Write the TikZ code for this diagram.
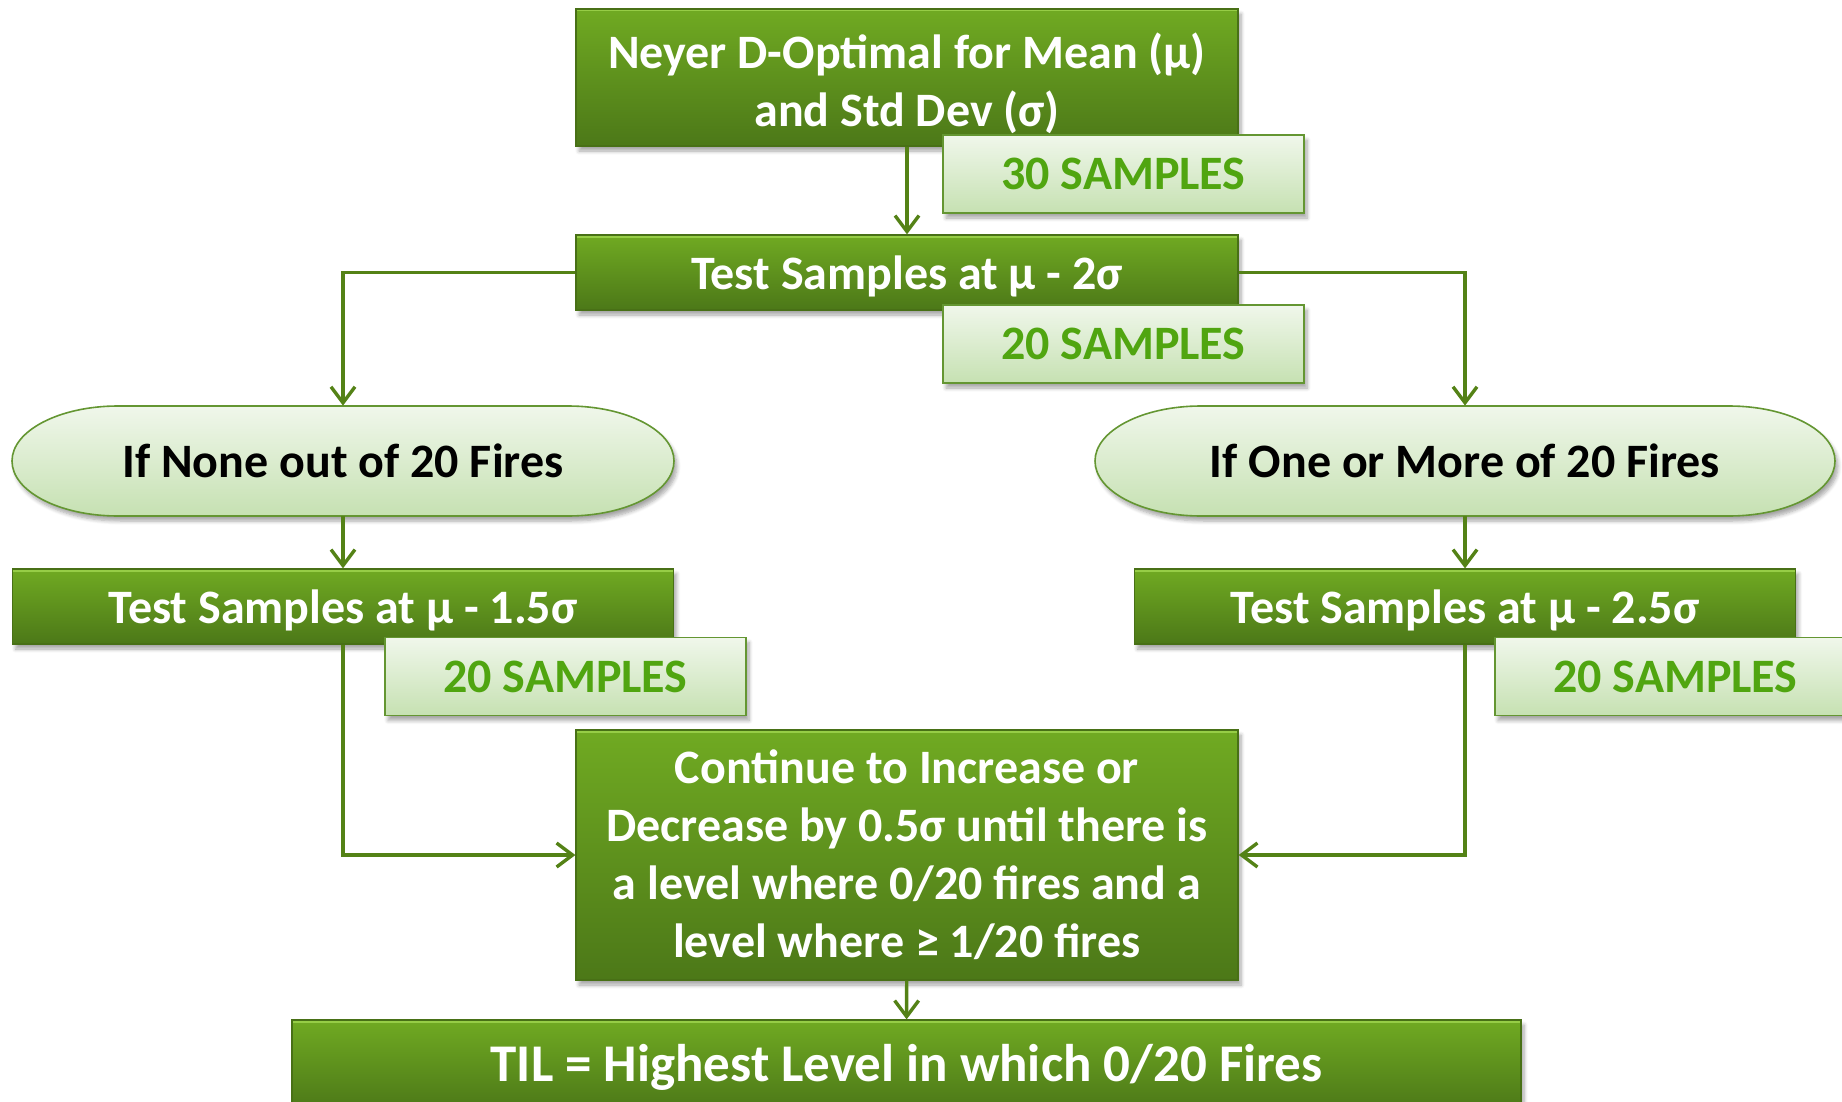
\documentclass[tikz,border=0pt]{standalone}
\usepackage{fontspec}
\setmainfont{Carlito}
\usetikzlibrary{arrows.meta,shadows.blur,calc}
\definecolor{gtop}{RGB}{112,170,34}
\definecolor{gbot}{RGB}{76,120,24}
\definecolor{gedge}{RGB}{72,112,22}
\definecolor{ghi}{RGB}{150,205,70}
\definecolor{ltop}{RGB}{240,247,235}
\definecolor{lbot}{RGB}{198,225,178}
\definecolor{ledge}{RGB}{100,150,50}
\definecolor{stxt}{RGB}{80,165,16}
\definecolor{conncol}{RGB}{84,130,22}
\tikzset{
  softshadow/.style={blur shadow={shadow xshift=1.5pt, shadow yshift=-2.5pt, shadow opacity=35, shadow blur steps=6}},
  mainbox/.style={draw=gedge, line width=0.6pt, top color=gtop, bottom color=gbot,
    text=white, font=\fontsize{24}{29}\selectfont\bfseries, align=center, inner sep=0pt,
    softshadow, execute at begin node={\rule{0pt}{21pt}},
    path picture={\draw[ghi, line width=2.5pt]
      (path picture bounding box.north west) -- (path picture bounding box.north east);}},
  sampbox/.style={draw=ledge, line width=0.6pt, top color=ltop, bottom color=lbot,
    text=stxt, font=\fontsize{24}{26}\selectfont\bfseries, inner sep=0pt,
    minimum width=180.5pt, minimum height=39pt, softshadow},
  condtext/.style={text=black, font=\fontsize{24}{29}\selectfont\bfseries, inner sep=0pt,
    minimum height=55pt},
  condshape/.style={draw=ledge, line width=0.8pt, top color=ltop, bottom color=lbot, softshadow},
  conn/.style={draw=conncol, line width=1.7pt, -{Straight Barb[length=8pt,width=12pt,line width=1.7pt]}}
}
\begin{document}
\begin{tikzpicture}[x=0.5pt,y=-0.5pt]
\useasboundingbox (0,0) rectangle (1842,1102);
\clip (0,0) rectangle (1842,1102);
% nodes
\node[mainbox, minimum width=331pt, minimum height=68.5pt] (top) at (907,77.5)
  {\rule{0pt}{24pt}Neyer D-Optimal for Mean (μ)\\and Std Dev (σ)};
\node[mainbox, minimum width=331pt, minimum height=37.5pt] (b2) at (907,272.5)
  {Test Samples at μ - 2σ};
% condition shapes (elliptical-ended)
\path[condshape] (118,406) -- (568,406)
  arc[start angle=90, end angle=-90, x radius=53pt, y radius=27.5pt]
  -- (118,516) arc[start angle=270, end angle=90, x radius=53pt, y radius=27.5pt] -- cycle;
\path[condshape] (1201,406) -- (1729,406)
  arc[start angle=90, end angle=-90, x radius=53pt, y radius=27.5pt]
  -- (1201,516) arc[start angle=270, end angle=90, x radius=53pt, y radius=27.5pt] -- cycle;
\node[condtext, minimum width=331pt] (elL) at (343,461) {If None out of 20 Fires};
\node[condtext, minimum width=370pt] (elR) at (1465,461) {If One or More of 20 Fires};
\node[mainbox, minimum width=330.5pt, minimum height=37.5pt] (bL) at (343,606.5)
  {Test Samples at μ - 1.5σ};
\node[mainbox, minimum width=330.5pt, minimum height=37.5pt] (bR) at (1465,606.5)
  {Test Samples at μ - 2.5σ};
\node[mainbox, minimum width=331pt, minimum height=125pt] (cont) at (907,855)
  {Continue to Increase or\\Decrease by 0.5σ until there is\\a level where 0/20 fires and a\\level where ≥ 1/20 fires};
\node[mainbox, minimum width=614.5pt, minimum height=45pt, font=\fontsize{26.5}{30}\selectfont\bfseries] (til) at (906.5,1065)
  {TIL = Highest Level in which 0/20 Fires};
% sample boxes
\node[sampbox] (s30) at (1123.5,174) {30 SAMPLES};
\node[sampbox] (s20a) at (1123.5,344) {20 SAMPLES};
\node[sampbox] (s20L) at (565.5,676.5) {20 SAMPLES};
\node[sampbox] (s20R) at (1675.5,676.5) {20 SAMPLES};
% connectors
\draw[conn] (top) -- (b2);
\draw[conn] (b2.west) -| (elL.north);
\draw[conn] (b2.east) -| (elR.north);
\draw[conn] (elL) -- (bL);
\draw[conn] (elR) -- (bR);
\draw[conn] (bL.south) |- (cont.west);
\draw[conn] (bR.south) |- (cont.east);
\draw[conn] (cont) -- (til);
\end{tikzpicture}
\end{document}
